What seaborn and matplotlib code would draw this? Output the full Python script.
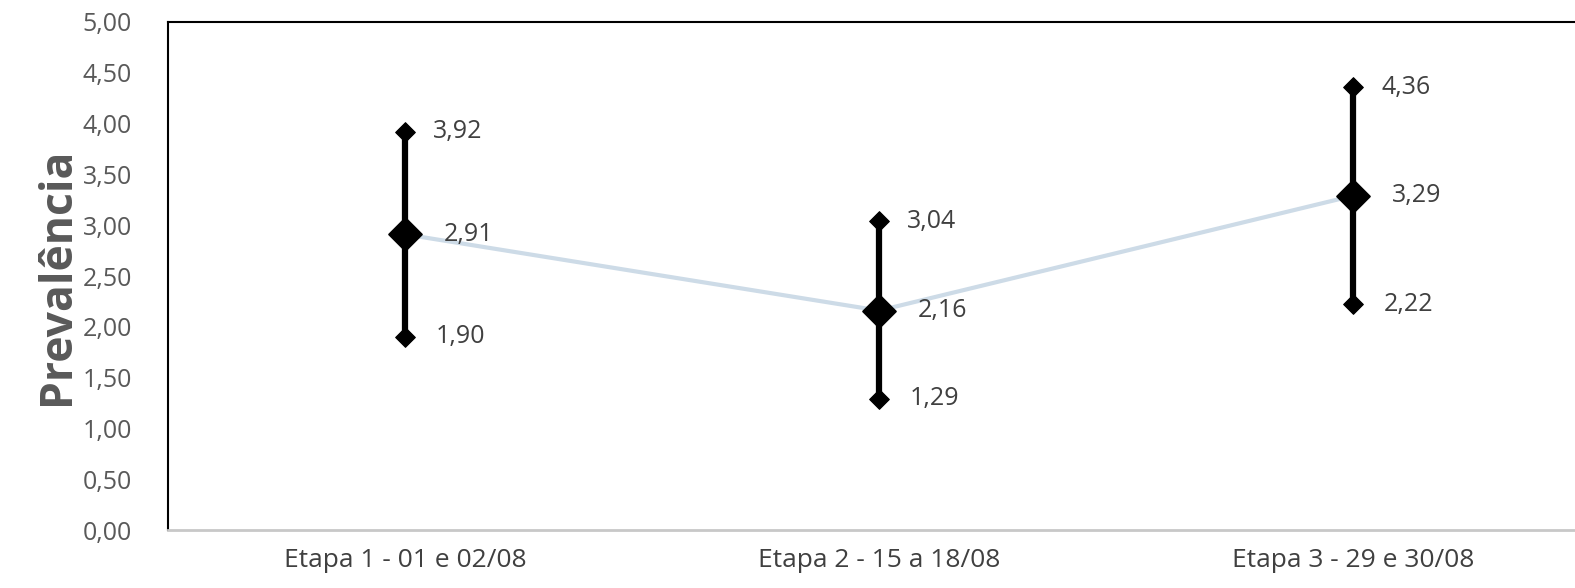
import matplotlib
matplotlib.use("Agg")
import matplotlib.pyplot as plt
import seaborn as sns
import pandas as pd

# --- Dados ---
etapas = ['Etapa 1 - 01 e 02/08', 'Etapa 2 - 15 a 18/08', 'Etapa 3 - 29 e 30/08']
media = [2.91, 2.16, 3.29]
inferior = [1.90, 1.29, 2.22]
superior = [3.92, 3.04, 4.36]

df = pd.DataFrame({'Etapa': etapas, 'Media': media, 'Inf': inferior, 'Sup': superior})

sns.set_style('white')
plt.rcParams['font.family'] = ['Open Sans', 'DejaVu Sans']

fig = plt.figure(figsize=(15.75, 5.88), dpi=100)
ax = fig.add_axes([0.1067, 0.0986, 0.903, 0.864])

# linha das médias
sns.lineplot(data=df, x='Etapa', y='Media', ax=ax, color='#cddbe7', linewidth=3, sort=False)

# intervalos
ax.vlines(df['Etapa'], df['Inf'], df['Sup'], color='black', linewidth=4.5, zorder=3)
sns.scatterplot(data=df, x='Etapa', y='Inf', ax=ax, marker='D', s=100, color='black', edgecolor='black', zorder=4)
sns.scatterplot(data=df, x='Etapa', y='Sup', ax=ax, marker='D', s=100, color='black', edgecolor='black', zorder=4)
sns.scatterplot(data=df, x='Etapa', y='Media', ax=ax, marker='D', s=280, color='black', edgecolor='black', zorder=5)

def fmt(v):
    return f'{v:.2f}'.replace('.', ',')

for i, row in df.iterrows():
    ax.annotate(fmt(row['Sup']), (i, row['Sup']), xytext=(20, 0), textcoords='offset points',
                va='center', fontsize=18, color='#404040')
    ax.annotate(fmt(row['Inf']), (i, row['Inf']), xytext=(22, 0), textcoords='offset points',
                va='center', fontsize=18, color='#404040')
    ax.annotate(fmt(row['Media']), (i, row['Media']), xytext=(28, 0), textcoords='offset points',
                va='center', fontsize=18, color='#404040')

ax.set_xlim(-0.5, 2.5)
ax.set_ylim(0, 5)
ax.set_yticks([i * 0.5 for i in range(11)])
ax.set_yticklabels([fmt(i * 0.5) for i in range(11)], fontsize=18, color='#595959')
ax.tick_params(axis='x', labelsize=19, labelcolor='#404040', length=0, pad=13)
ax.tick_params(axis='y', length=0, pad=26)
ax.set_xlabel('')
ax.set_ylabel('Prevalência', fontsize=32, fontweight='bold', color='#595959', labelpad=2)

for s in ['left', 'top', 'right']:
    ax.spines[s].set_color('black')
    ax.spines[s].set_linewidth(1.5)
ax.spines['bottom'].set_color('#c8c8c8')
ax.spines['bottom'].set_linewidth(2)

fig.savefig('out.png', dpi=100)
